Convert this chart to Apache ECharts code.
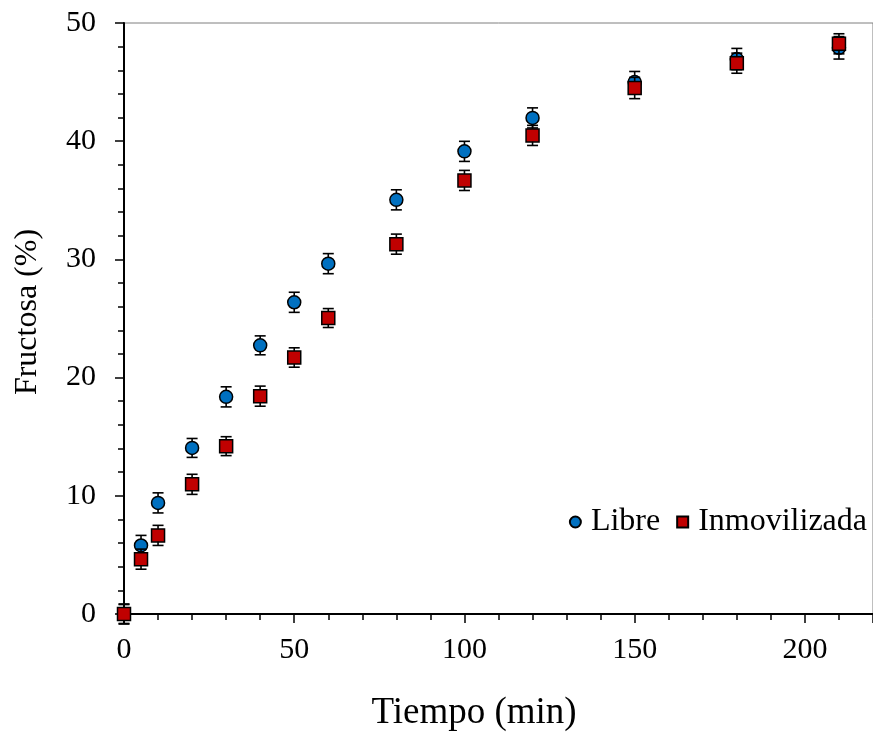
<!DOCTYPE html>
<html>
<head>
<meta charset="utf-8">
<script src="https://cdn.jsdelivr.net/npm/echarts@6/dist/echarts.min.js"></script>
<style>html,body{margin:0;padding:0;background:#fff;}#c{width:873px;height:734px;}</style>
</head>
<body>
<div id="c"></div>
<script>
const timeMin = [0, 5, 10, 20, 30, 40, 50, 60, 80, 100, 120, 150, 180, 210];
const libre = [0, 5.8, 9.4, 14.05, 18.37, 22.73, 26.37, 29.64, 35.04, 39.14, 41.97, 45.0, 46.95, 47.9];
const libreErr = [0.8, 0.85, 0.85, 0.8, 0.85, 0.8, 0.85, 0.85, 0.85, 0.85, 0.85, 0.9, 0.9, 0.95];
const inmov = [0, 4.64, 6.65, 10.97, 14.2, 18.43, 21.7, 25.04, 31.29, 36.68, 40.49, 44.5, 46.6, 48.24];
const inmovErr = [0.85, 0.85, 0.85, 0.85, 0.8, 0.85, 0.82, 0.8, 0.85, 0.85, 0.85, 0.9, 0.85, 0.85];
const seriesNames = ['Libre', 'Inmovilizada'];
const xTitle = 'Tiempo (min)';
const yTitle = 'Fructosa (%)';

const FONT = "'Liberation Serif', 'Times New Roman', serif";

function errData(ys, es) {
  return timeMin.map((t, i) => [t, ys[i], es[i]]);
}
function renderErr(params, api) {
  const x = api.value(0), y = api.value(1), e = api.value(2);
  const top = api.coord([x, y + e]);
  const bot = api.coord([x, y - e]);
  const hw = 5.5;
  const st = { stroke: '#000', lineWidth: 1.6 };
  return {
    type: 'group',
    children: [
      { type: 'line', shape: { x1: top[0], y1: top[1], x2: bot[0], y2: bot[1] }, style: st },
      { type: 'line', shape: { x1: top[0] - hw, y1: top[1], x2: top[0] + hw, y2: top[1] }, style: st },
      { type: 'line', shape: { x1: bot[0] - hw, y1: bot[1], x2: bot[0] + hw, y2: bot[1] }, style: st }
    ]
  };
}

const chart = echarts.init(document.getElementById('c'), null, { renderer: 'canvas' });
chart.setOption({
  animation: false,
  backgroundColor: '#fff',
  grid: { left: 124, top: 23, width: 754, height: 591, show: true, borderColor: '#7f7f7f', borderWidth: 1, backgroundColor: 'transparent' },
  xAxis: {
    type: 'value', min: 0, max: 220, interval: 50,
    axisLine: { lineStyle: { color: '#000', width: 2 } },
    axisTick: { inside: false, length: 9, lineStyle: { color: '#000', width: 1.5 } },
    minorTick: { show: true, splitNumber: 5, length: 6, lineStyle: { color: '#000', width: 1.5 } },
    splitLine: { show: false },
    axisLabel: { fontFamily: FONT, fontSize: 30, color: '#000', margin: 21, showMaxLabel: false }
  },
  yAxis: {
    type: 'value', min: 0, max: 50, interval: 10,
    axisLine: { lineStyle: { color: '#000', width: 2 } },
    axisTick: { inside: false, length: 9, lineStyle: { color: '#000', width: 1.5 } },
    minorTick: { show: true, splitNumber: 5, length: 6, lineStyle: { color: '#000', width: 1.5 } },
    splitLine: { show: false },
    axisLabel: { fontFamily: FONT, fontSize: 30, color: '#000', margin: 28 }
  },
  legend: {
    right: 6, top: 506, padding: 0,
    itemWidth: 11, itemHeight: 11, itemGap: 16,
    textStyle: { fontFamily: FONT, fontSize: 32, color: '#000', padding: [0, 0, 0, 5] },
    data: [{ name: seriesNames[0], icon: 'circle' }, { name: seriesNames[1], icon: 'rect' }]
  },
  graphic: [
    { type: 'text', x: 474, y: 713, style: { text: xTitle, font: "37px " + FONT, fill: '#000', textAlign: 'center', textVerticalAlign: 'middle' } },
    { type: 'text', x: 28, y: 312, rotation: Math.PI / 2, style: { text: yTitle, font: "32px " + FONT, fill: '#000', textAlign: 'center', textVerticalAlign: 'middle' } }
  ],
  series: [
    { type: 'custom', name: seriesNames[0] + ' err', renderItem: renderErr, data: errData(libre, libreErr), z: 2, silent: true, clip: false },
    { type: 'scatter', name: seriesNames[0], symbol: 'circle', symbolSize: 13, data: timeMin.map((t, i) => [t, libre[i]]),
      itemStyle: { color: '#0070C0', borderColor: '#000', borderWidth: 1.5, opacity: 1 }, z: 3, clip: false },
    { type: 'custom', name: seriesNames[1] + ' err', renderItem: renderErr, data: errData(inmov, inmovErr), z: 4, silent: true, clip: false },
    { type: 'scatter', name: seriesNames[1], symbol: 'rect', symbolSize: 13, data: timeMin.map((t, i) => [t, inmov[i]]),
      itemStyle: { color: '#C00000', borderColor: '#000', borderWidth: 1.5, opacity: 1 }, z: 5, clip: false }
  ]
});
</script>
</body>
</html>
